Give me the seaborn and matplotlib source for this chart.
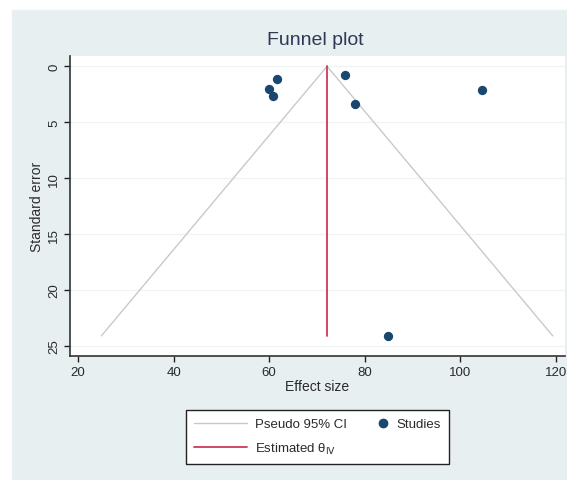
import matplotlib
matplotlib.use("Agg")
import matplotlib.pyplot as plt
from matplotlib.legend_handler import HandlerBase
from matplotlib.lines import Line2D
from matplotlib.patches import Rectangle
import numpy as np
import pandas as pd
import seaborn as sns

# --- data ---
effect_size = [61.7, 60.0, 60.7, 75.8, 78.0, 104.6, 84.8]
std_error = [1.1, 2.0, 2.7, 0.8, 3.4, 2.1, 24.1]
theta_iv = 72.1
se_max = 24.1
x_ticks = [20, 40, 60, 80, 100, 120]
y_ticks = [0, 5, 10, 15, 20, 25]

BG = "#e8eff1"
NAVY = "#1a476f"
RED = "#d0385a"
CI_GREY = "#c9c9c9"
TXT = "#2a2a2a"


class DotAtEnd(HandlerBase):
    # draw the marker at the right end of the handle box (Stata style)
    def create_artists(self, legend, orig_handle, xdescent, ydescent,
                       width, height, fontsize, trans):
        dot = Line2D([-xdescent + width - 4], [-ydescent + height / 2], ls="",
                     marker="o", markersize=6, color=orig_handle.get_color(),
                     transform=trans)
        return [dot]


sns.set_theme(style="white")
plt.rcParams["font.family"] = ["Liberation Sans Narrow", "Liberation Sans", "DejaVu Sans"]

df = pd.DataFrame({"Effect size": effect_size, "Standard error": std_error})
se_line = np.array([0.0, se_max])
ci = pd.DataFrame({
    "x": np.concatenate([theta_iv - 1.96 * se_line[::-1], theta_iv + 1.96 * se_line]),
    "y": np.concatenate([se_line[::-1], se_line]),
})

fig = plt.figure(figsize=(5.67, 4.81), dpi=100, facecolor="white")
fig.patches.append(Rectangle((12 / 567, 0), 1, 1 - 11 / 481, transform=fig.transFigure,
                             color=BG, zorder=-10))
ax = fig.add_axes([70 / 567, 1 - 357 / 481, 495 / 567, 300 / 481])
ax.set_facecolor("white")

for yt in y_ticks:
    ax.axhline(yt, color="#eef4f5", lw=0.9, zorder=0)

sns.lineplot(data=ci, x="x", y="y", sort=False, estimator=None, color=CI_GREY, lw=1.0, ax=ax)
ax.plot([theta_iv, theta_iv], [0, se_max], color=RED, lw=1.3)
sns.scatterplot(data=df, x="Effect size", y="Standard error", color=NAVY, s=45,
                edgecolor=NAVY, linewidth=0, ax=ax, zorder=5)

ax.set_xlim(18.3, 121.9)
ax.set_ylim(25.9, -0.92)
ax.set_xticks(x_ticks)
ax.set_yticks(y_ticks)
ax.set_yticklabels([str(t) for t in y_ticks], rotation=90, va="center")
ax.tick_params(axis="both", direction="out", length=4, width=1, color="#222222",
               labelsize=9.5, labelcolor=TXT, left=True, bottom=True, pad=3)
for s in ["top", "right"]:
    ax.spines[s].set_visible(False)
for s in ["left", "bottom"]:
    ax.spines[s].set_color("#333333")
    ax.spines[s].set_linewidth(1.2)

ax.set_xlabel("Effect size", fontsize=10, color=TXT, labelpad=1)
ax.set_ylabel("Standard error", fontsize=10, color=TXT, labelpad=3)
fig.text(315 / 567, 1 - 41 / 481, "Funnel plot", ha="center", va="center",
         fontsize=14, color="#2e3a55")

ci_h = Line2D([], [], color=CI_GREY, lw=1.0)
est_h = Line2D([], [], color=RED, lw=1.3)
dot_h = Line2D([], [], color=NAVY, marker="o", ls="")
handles = [ci_h, est_h, dot_h]
labels = ["Pseudo 95% CI", r"Estimated θ$_{\mathrm{IV}}$", "Studies"]
leg = fig.legend(handles, labels, ncol=2, loc="upper left",
                 bbox_to_anchor=(186 / 567, 1 - 411 / 481), borderaxespad=0,
                 handler_map={dot_h: DotAtEnd()},
                 frameon=True, fancybox=False, framealpha=1, facecolor="white",
                 fontsize=9.5, handlelength=4.0, handletextpad=0.6,
                 columnspacing=-0.8, borderpad=0.6, labelspacing=0.8)
leg.get_frame().set_edgecolor("#222222")
leg.get_frame().set_linewidth(1.0)
for t in leg.get_texts():
    t.set_color(TXT)

fig.savefig("out.png", dpi=100, facecolor="white")
